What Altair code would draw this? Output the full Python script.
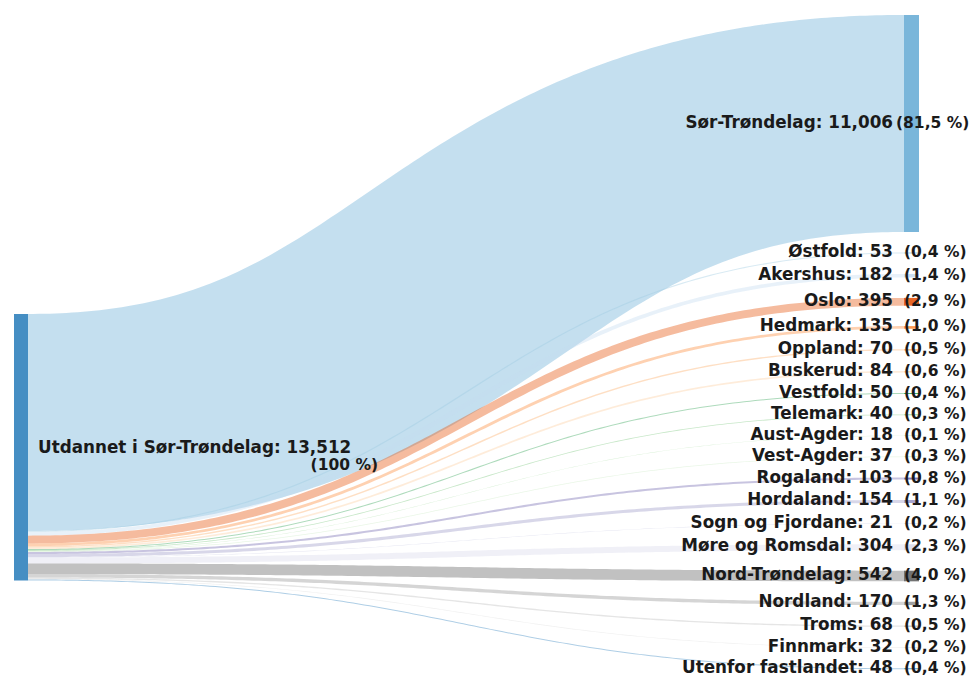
import altair as alt
import pandas as pd
import numpy as np

# ---------------- data ----------------
source_name = "Utdannet i Sør-Trøndelag"
source_total = 13512
source_pct = "100"

targets = ["Sør-Trøndelag", "Østfold", "Akershus", "Oslo", "Hedmark", "Oppland",
           "Buskerud", "Vestfold", "Telemark", "Aust-Agder", "Vest-Agder",
           "Rogaland", "Hordaland", "Sogn og Fjordane", "Møre og Romsdal",
           "Nord-Trøndelag", "Nordland", "Troms", "Finnmark", "Utenfor fastlandet"]
values = [11006, 53, 182, 395, 135, 70, 84, 50, 40, 18, 37, 103, 154, 21, 304,
          542, 170, 68, 32, 48]
pcts = ["81,5", "0,4", "1,4", "2,9", "1,0", "0,5", "0,6", "0,4", "0,3", "0,1",
        "0,3", "0,8", "1,1", "0,2", "2,3", "4,0", "1,3", "0,5", "0,2", "0,4"]

palette = ["#3182bd", "#6baed6", "#9ecae1", "#c6dbef", "#e6550d", "#fd8d3c",
           "#fdae6b", "#fdd0a2", "#31a354", "#74c476", "#a1d99b", "#c7e9c0",
           "#756bb1", "#9e9ac8", "#bcbddc", "#dadaeb", "#636363", "#969696",
           "#bdbdbd", "#d9d9d9"]

# ---------------- layout parameters ----------------
W, H = 964, 669
PX_PER_UNIT = 0.01972
PAD = 1035              # node padding (value units)
LEFT_TOP = 15160        # top of the source node (value units)
X_L0, X_L1 = 6, 20      # source node column
X_R0, X_R1 = 896, 911   # target node column
STRETCH = 1.35          # horizontal stretch of the link geometry
Y_MIN = -7 / PX_PER_UNIT
Y_MAX = Y_MIN + H / PX_PER_UNIT
FONT = "DejaVu Sans"
FS_NAME = 16.8
FS_PCT = 15.5

nodes_all = [source_name] + targets
colors = [palette[i % len(palette)] for i in range(len(nodes_all))]

# node positions
t_top, s_top = [], []
cum = 0
for i, v in enumerate(values):
    t_top.append(cum + i * PAD)
    s_top.append(LEFT_TOP + cum)
    cum += v

# link bands: a stroke of width = value along a cubic bezier centre line
k = PX_PER_UNIT
ts = np.linspace(0, 1, 400)
xg = np.linspace(X_L1, X_R0, 160)
rows = []
for i, (name, v) in enumerate(zip(targets, values)):
    w = v * k
    ys = (s_top[i] + v / 2) * k
    yt = (t_top[i] + v / 2) * k
    x0, x1 = X_L1 / STRETCH, X_R0 / STRETCH
    xm = (x0 + x1) / 2
    u = 1 - ts
    cx = x0 * u ** 3 + 3 * xm * u ** 2 * ts + 3 * xm * u * ts ** 2 + x1 * ts ** 3
    cy = ys * u ** 3 + 3 * ys * u ** 2 * ts + 3 * yt * u * ts ** 2 + yt * ts ** 3
    dx = 3 * u ** 2 * (xm - x0) + 3 * ts ** 2 * (x1 - xm)
    dy = 6 * u * ts * (yt - ys)
    L = np.hypot(dx, dy)
    nx, ny = dy / L, -dx / L
    top_x = np.maximum.accumulate((cx + nx * w / 2) * STRETCH)
    top_y = cy + ny * w / 2
    bot_x = np.maximum.accumulate((cx - nx * w / 2) * STRETCH)
    bot_y = cy - ny * w / 2
    ty = np.interp(xg, top_x, top_y) / k
    by = np.interp(xg, bot_x, bot_y) / k
    for xx, a, b in zip(xg, ty, by):
        rows.append({"link": name, "x": xx, "y": a, "y2": b, "order": i})
links = pd.DataFrame(rows)

node_df = pd.DataFrame(
    [{"node": source_name, "x": X_L0, "x2": X_L1, "y": LEFT_TOP, "y2": LEFT_TOP + source_total}] +
    [{"node": n, "x": X_R0, "x2": X_R1, "y": t_top[i], "y2": t_top[i] + values[i]}
     for i, n in enumerate(targets)])

vmax = max(values)
name_df = pd.DataFrame([{"label": f"{n}: {v:,}", "x": X_R0 - 11,
                         "y": t_top[i] + v / 2} for i, (n, v) in enumerate(zip(targets, values))])
pct_df = pd.DataFrame([{"label": f"({p} %)", "x": X_R0 - 8 if v == vmax else X_R0,
                        "y": t_top[i] + v / 2} for i, (p, v) in enumerate(zip(pcts, values))])
src_df = pd.DataFrame([{"label": f"{source_name}: {source_total:,}", "x": X_L1 + 10,
                        "y": LEFT_TOP + source_total / 2}])
src_pct_df = pd.DataFrame([{"label": f"({source_pct} %)", "x": 370,
                            "y": LEFT_TOP + source_total / 2}])

xs = alt.Scale(domain=[0, W], nice=False, zero=False)
ysc = alt.Scale(domain=[Y_MIN, Y_MAX], nice=False, zero=False, reverse=True)
cs = alt.Scale(domain=nodes_all, range=colors)

link_layer = alt.Chart(links).mark_area(opacity=0.4, interpolate="linear").encode(
    x=alt.X("x:Q", scale=xs, axis=None),
    y=alt.Y("y:Q", scale=ysc, axis=None, stack=None),
    y2="y2:Q",
    color=alt.Color("link:N", scale=cs, legend=None),
    detail="link:N",
    order="order:Q",
)

node_layer = alt.Chart(node_df).mark_rect(opacity=0.9).encode(
    x=alt.X("x:Q", scale=xs, axis=None),
    x2="x2:Q",
    y=alt.Y("y:Q", scale=ysc, axis=None),
    y2="y2:Q",
    color=alt.Color("node:N", scale=cs, legend=None),
)

def text_layer(df, align, fs, dy=0):
    return alt.Chart(df).mark_text(align=align, baseline="middle", font=FONT,
                                   fontSize=fs, fontWeight="bold", color="#1a1a1a", dy=dy).encode(
        x=alt.X("x:Q", scale=xs, axis=None),
        y=alt.Y("y:Q", scale=ysc, axis=None),
        text="label:N",
    )

chart = alt.layer(
    link_layer,
    node_layer,
    text_layer(name_df, "right", FS_NAME, -1),
    text_layer(pct_df, "left", FS_PCT, -1),
    text_layer(src_df, "left", FS_NAME, 1),
    text_layer(src_pct_df, "right", FS_PCT, 18),
).properties(width=W, height=H, padding=0, autosize="none").configure_view(stroke=None)

chart.save("out.html", embed_options={"renderer": "svg", "actions": False})
